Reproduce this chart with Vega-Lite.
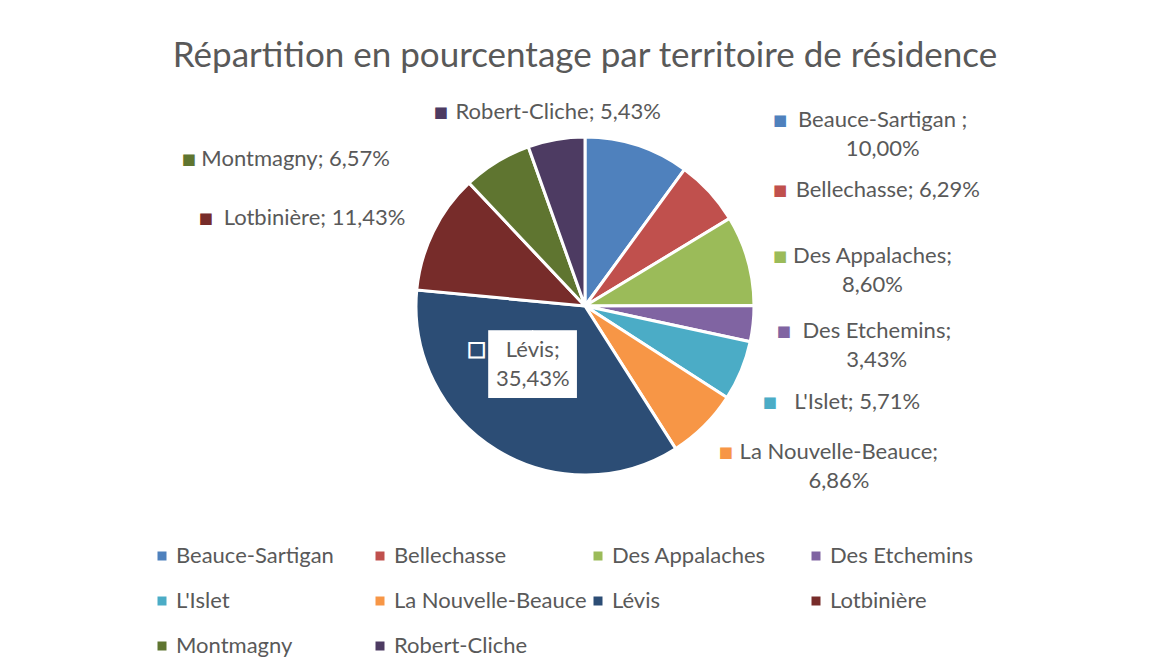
{
  "$schema": "https://vega.github.io/schema/vega-lite/v6.json",
  "width": 1138,
  "height": 412,
  "autosize": "none",
  "padding": {"left": 16, "top": 100, "right": 0, "bottom": 160},
  "background": "white",
  "config": {"view": {"stroke": null}, "font": "Lato"},
  "title": {
    "text": "Répartition en pourcentage par territoire de résidence",
    "font": "Lato",
    "fontSize": 35,
    "fontWeight": "normal",
    "color": "#595959",
    "anchor": "middle",
    "offset": 26
  },
  "data": {
    "values": [
      {"rang": 1, "territoire": "Beauce-Sartigan", "pct": 10.00, "label": "Beauce-Sartigan ;\n10,00%"},
      {"rang": 2, "territoire": "Bellechasse", "pct": 6.29, "label": "Bellechasse; 6,29%"},
      {"rang": 3, "territoire": "Des Appalaches", "pct": 8.60, "label": "Des Appalaches;\n8,60%"},
      {"rang": 4, "territoire": "Des Etchemins", "pct": 3.43, "label": "Des Etchemins;\n3,43%"},
      {"rang": 5, "territoire": "L'Islet", "pct": 5.71, "label": "L'Islet; 5,71%"},
      {"rang": 6, "territoire": "La Nouvelle-Beauce", "pct": 6.86, "label": "La Nouvelle-Beauce;\n6,86%"},
      {"rang": 7, "territoire": "Lévis", "pct": 35.43, "label": "Lévis;\n35,43%"},
      {"rang": 8, "territoire": "Lotbinière", "pct": 11.43, "label": "Lotbinière; 11,43%"},
      {"rang": 9, "territoire": "Montmagny", "pct": 6.57, "label": "Montmagny; 6,57%"},
      {"rang": 10, "territoire": "Robert-Cliche", "pct": 5.43, "label": "Robert-Cliche; 5,43%"}
    ]
  },
  "encoding": {
    "theta": {"field": "pct", "type": "quantitative", "stack": "normalize"},
    "order": {"field": "rang", "type": "quantitative"}
  },
  "layer": [
    {
      "mark": {"type": "arc", "outerRadius": 169, "stroke": "white", "strokeWidth": 3},
      "encoding": {
        "color": {
          "field": "territoire",
          "type": "nominal",
          "scale": {
            "domain": ["Beauce-Sartigan", "Bellechasse", "Des Appalaches", "Des Etchemins", "L'Islet", "La Nouvelle-Beauce", "Lévis", "Lotbinière", "Montmagny", "Robert-Cliche"],
            "range": ["#4F81BD", "#C0504D", "#9BBB59", "#8064A2", "#4BACC6", "#F79646", "#2C4D75", "#772C2A", "#5F7530", "#4D3B62"]
          },
          "legend": {
            "orient": "none",
            "legendX": 135,
            "legendY": 445,
            "direction": "horizontal",
            "columns": 4,
            "gridAlign": "all",
            "columnPadding": 0,
            "rowPadding": 23,
            "symbolType": "square",
            "symbolSize": 81,
            "symbolStrokeWidth": 0,
            "labelFont": "Lato",
            "labelFontSize": 22,
            "labelColor": "#595959",
            "labelLimit": 400,
            "labelOffset": 3,
            "title": null
          }
        }
      }
    },
    {
      "mark": {
        "type": "text",
        "radius": 200,
        "font": "DejaVu Sans",
        "fontSize": 15,
        "align": "center",
        "baseline": "middle",
        "dx": {"expr": "(datum.pct_start+datum.pct_end)<1 ? ((datum.pct_start+datum.pct_end)<0.5 ? max(0,195-200*sin(PI*(datum.pct_start+datum.pct_end))) : 0) : (((datum.pct_start+datum.pct_end)>1.92 ? ((length(split(datum.label,'\\n')[0])*10.2 + 11*length(replace(split(datum.label,'\\n')[0], regexp('[^Mm]','g'), '')))+16)/2 : ((datum.pct_start+datum.pct_end)>1.667 ? min(0,-195-200*sin(PI*(datum.pct_start+datum.pct_end))) : 0)) - (length(split(datum.label,'\\n')[0])*10.2 + 11*length(replace(split(datum.label,'\\n')[0], regexp('[^Mm]','g'), ''))) - 16)"},
        "dy": {"expr": "(datum.pct_start+datum.pct_end)<1 ? 19 - (length(split(datum.label,'\\n'))-1)*14.5 : ((datum.pct_start+datum.pct_end)>1.92 ? 3 : ((datum.pct_start+datum.pct_end)>1.667 ? 24 : 0))"}
      },
      "encoding": {
        "detail": {"field": "territoire"},
        "color": {"field": "territoire", "type": "nominal", "legend": null},
        "text": {"condition": {"test": "datum.pct < 20", "value": "■"}, "value": ""}
      }
    },
    {
      "mark": {
        "type": "text",
        "radius": 200,
        "font": "Lato",
        "fontSize": 22,
        "color": "#595959",
        "align": "center",
        "baseline": "middle",
        "lineBreak": "\n",
        "lineHeight": 29,
        "dx": {"expr": "((datum.pct_start+datum.pct_end)<0.5 ? max(0,195-200*sin(PI*(datum.pct_start+datum.pct_end))) : 0) + 16 + (length(split(datum.label,'\\n')[0])*10.2 + 11*length(replace(split(datum.label,'\\n')[0], regexp('[^Mm]','g'), '')))/2"},
        "dy": {"expr": "19 - (length(split(datum.label,'\\n'))-1)*14.5"}
      },
      "encoding": {
        "detail": {"field": "territoire"},
        "text": {"condition": {"test": "(datum.pct_start+datum.pct_end)<1 && datum.pct < 20", "field": "label"}, "value": ""}
      }
    },
    {
      "mark": {
        "type": "text",
        "radius": 200,
        "font": "Lato",
        "fontSize": 22,
        "color": "#595959",
        "align": "right",
        "baseline": "middle",
        "dx": {"expr": "(datum.pct_start+datum.pct_end)>1.92 ? ((length(datum.label)*10.2 + 11*length(replace(datum.label, regexp('[^Mm]','g'), '')))+16)/2 : ((datum.pct_start+datum.pct_end)>1.667 ? min(0,-195-200*sin(PI*(datum.pct_start+datum.pct_end))) : 0)"},
        "dy": {"expr": "(datum.pct_start+datum.pct_end)>1.92 ? 3 : ((datum.pct_start+datum.pct_end)>1.667 ? 24 : 0)"}
      },
      "encoding": {
        "detail": {"field": "territoire"},
        "text": {"condition": {"test": "(datum.pct_start+datum.pct_end)>=1 && datum.pct < 20", "field": "label"}, "value": ""}
      }
    },
    {
      "mark": {
        "type": "text",
        "radius": 100,
        "font": "DejaVu Sans",
        "fontSize": 57,
        "color": "white",
        "align": "center",
        "baseline": "middle",
        "dy": -24
      },
      "encoding": {
        "detail": {"field": "territoire"},
        "text": {"condition": {"test": "datum.pct > 20", "value": "██"}, "value": ""}
      }
    },
    {
      "mark": {
        "type": "text",
        "radius": 100,
        "font": "DejaVu Sans",
        "fontSize": 19,
        "align": "center",
        "baseline": "middle",
        "stroke": "white",
        "strokeWidth": 2,
        "dx": -56,
        "dy": -42
      },
      "encoding": {
        "detail": {"field": "territoire"},
        "color": {"field": "territoire", "type": "nominal", "legend": null},
        "text": {"condition": {"test": "datum.pct > 20", "value": "■"}, "value": ""}
      }
    },
    {
      "mark": {
        "type": "text",
        "radius": 100,
        "font": "Lato",
        "fontSize": 22,
        "color": "#595959",
        "align": "center",
        "baseline": "middle",
        "lineBreak": "\n",
        "lineHeight": 29,
        "dy": -41.5
      },
      "encoding": {
        "detail": {"field": "territoire"},
        "text": {"condition": {"test": "datum.pct > 20", "field": "label"}, "value": ""}
      }
    }
  ]
}
